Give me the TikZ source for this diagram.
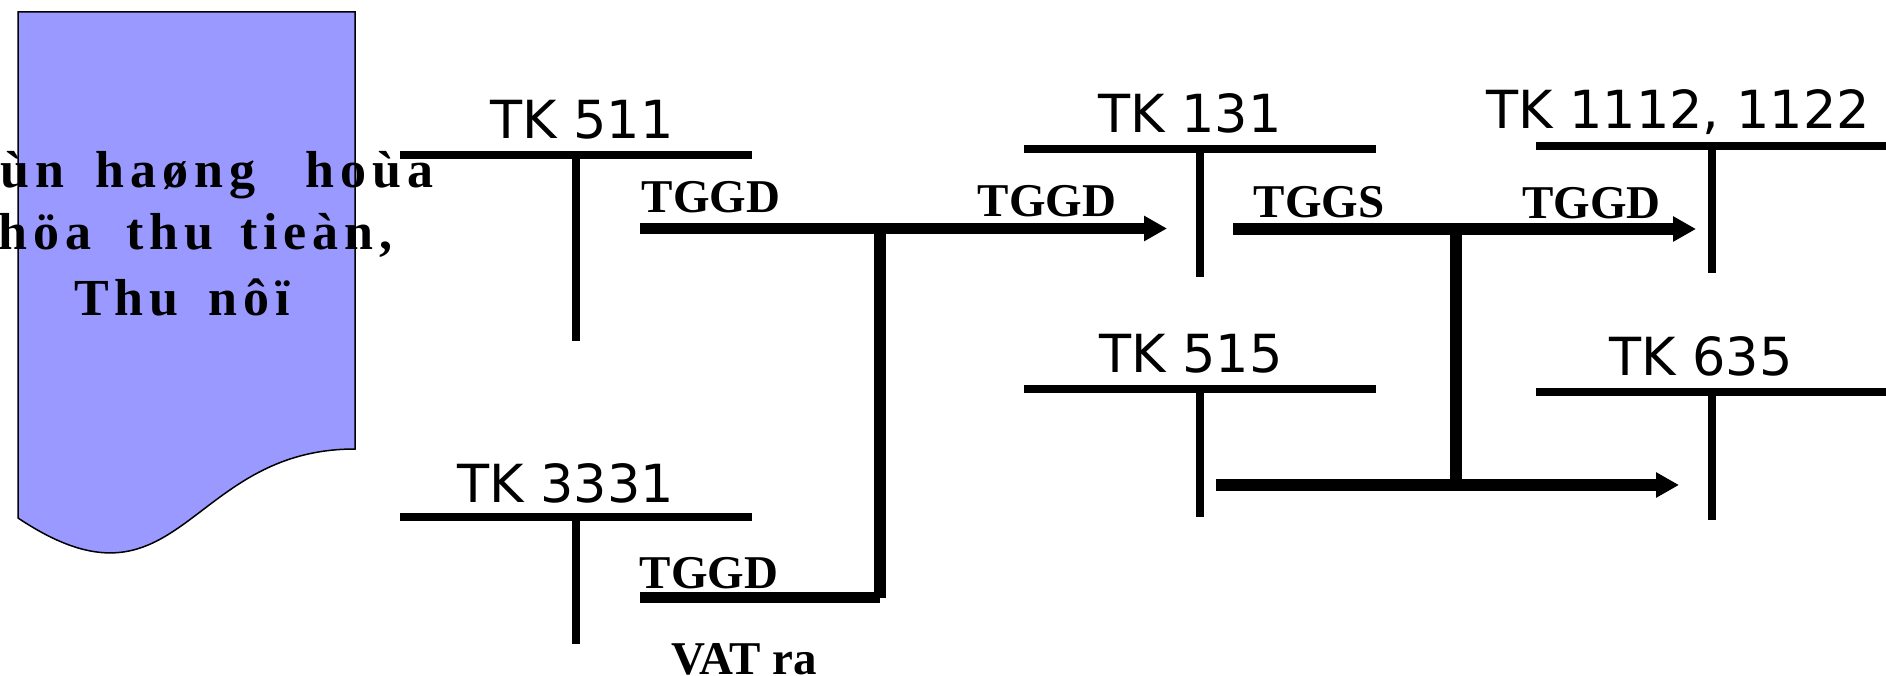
\documentclass[tikz,border=0pt]{standalone}
\usepackage{fontspec}
\usetikzlibrary{arrows.meta}
\newfontfamily\tkfont{DejaVu Sans}
\newfontfamily\lblfont{Liberation Serif}
\newfontfamily\docfont[LetterSpace=11.5]{Liberation Serif}
\definecolor{docblue}{HTML}{9999FF}
\begin{document}
\begin{tikzpicture}[x=1pt,y=-1pt,
  tk/.style={font=\tkfont\fontsize{52.5}{60}\selectfont, inner sep=0pt, anchor=base},
  lbl/.style={font=\lblfont\bfseries\fontsize{47}{54}\selectfont, inner sep=0pt, anchor=base},
  doctext/.style={font=\docfont\bfseries\fontsize{52}{60}\selectfont, inner sep=0pt, anchor=base west},
  tline/.style={line width=8pt},
  flow/.style={line width=11.5pt},
  flowarrow/.style={flow, -{Triangle[length=23pt,width=24pt]}},
]
\useasboundingbox (0,0) rectangle (1886,676);

% document shape
\draw[fill=docblue, line width=1.5pt] (18,12) -- (355,12) -- (355,449)
  .. controls (186,449) and (180,626) .. (18,518) -- cycle;
\node[doctext] (d1) at (0.6,188) {ùn \hspace{12pt}haøng \hspace{31pt}hoùa};
\node[doctext] (d2) at (-2,250) {höa \hspace{16pt}thu \hspace{8pt}tieàn,};
\node[doctext] (d3) at (74,315) {Thu \hspace{11pt}nôï};

% T accounts
\coordinate (a511l) at (400,155); \coordinate (a511r) at (752,155);
\coordinate (a511t) at (576,155); \coordinate (a511b) at (576,341);
\draw[tline] (a511l) -- (a511r); \draw[tline] (a511t) -- (a511b);
\node[tk] (t511) at (582,139) {TK 511};

\coordinate (a3331l) at (400,517); \coordinate (a3331r) at (752,517);
\coordinate (a3331t) at (576,517); \coordinate (a3331b) at (576,644);
\draw[tline] (a3331l) -- (a3331r); \draw[tline] (a3331t) -- (a3331b);
\node[tk] (t3331) at (565.5,502) {TK 3331};

\coordinate (a131l) at (1024,149); \coordinate (a131r) at (1376,149);
\coordinate (a131t) at (1200,149); \coordinate (a131b) at (1200,277);
\draw[tline] (a131l) -- (a131r); \draw[tline] (a131t) -- (a131b);
\node[tk] (t131) at (1190,133) {TK 131};

\coordinate (a515l) at (1024,389); \coordinate (a515r) at (1376,389);
\coordinate (a515t) at (1200,389); \coordinate (a515b) at (1200,517);
\draw[tline] (a515l) -- (a515r); \draw[tline] (a515t) -- (a515b);
\node[tk] (t515) at (1191,372) {TK 515};

\coordinate (a1112l) at (1536,146); \coordinate (a1112r) at (1888,146);
\coordinate (a1112t) at (1712,146); \coordinate (a1112b) at (1712,273);
\draw[tline] (a1112l) -- (a1112r); \draw[tline] (a1112t) -- (a1112b);
\node[tk] (t1112) at (1678,129) {TK 1112, 1122};

\coordinate (a635l) at (1536,392); \coordinate (a635r) at (1888,392);
\coordinate (a635t) at (1712,392); \coordinate (a635b) at (1712,520);
\draw[tline] (a635l) -- (a635r); \draw[tline] (a635t) -- (a635b);
\node[tk] (t635) at (1701,375) {TK 635};

% flows left
\coordinate (f1s) at (640,228.5); \coordinate (f1e) at (1167,228.5);
\coordinate (j1) at (880,228.5); \coordinate (j2) at (880,597.5);
\coordinate (f2s) at (640,597.5);
\draw[flowarrow] (f1s) -- (f1e);
\draw[flow] (j1) -- (j2);
\draw[flow] (f2s) -- (j2);

% flows right
\coordinate (g1s) at (1233,229); \coordinate (g1e) at (1696,229);
\coordinate (k1) at (1456,229); \coordinate (k2) at (1456,485);
\coordinate (g2s) at (1216,485); \coordinate (g2e) at (1679,485);
\draw[flowarrow] (g1s) -- (g1e);
\draw[flow] (k1) -- (k2);
\draw[flowarrow] (g2s) -- (g2e);

% labels
\node[lbl] (l1) at (711,213) {TGGD};
\node[lbl] (l2) at (709,588) {TGGD};
\node[lbl] (l3) at (1047,217) {TGGD};
\node[lbl] (l4) at (1319,218) {TGGS};
\node[lbl] (l5) at (1591.5,219) {TGGD};
\node[lbl] (l6) at (744,674) {VAT ra};
\end{tikzpicture}
\end{document}
